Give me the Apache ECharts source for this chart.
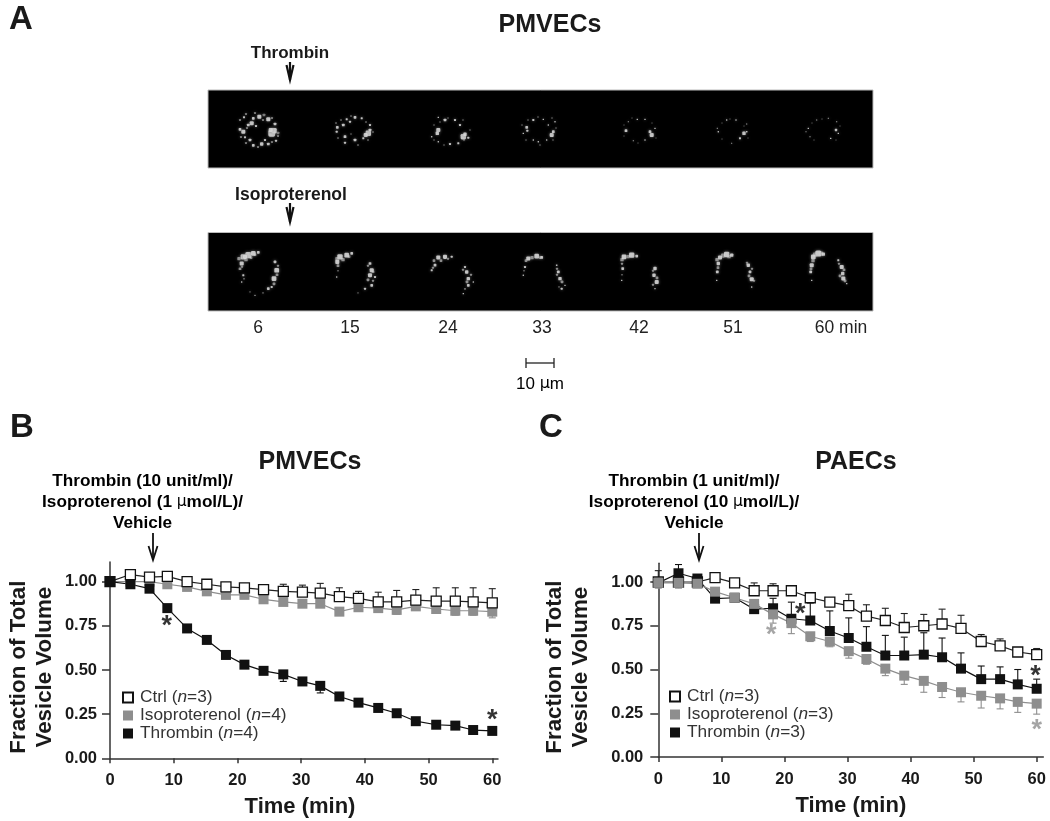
<!DOCTYPE html>
<html><head><meta charset="utf-8">
<style>html,body{margin:0;padding:0;background:#fff}#c{width:1050px;height:821px}</style>
<script src="https://cdn.jsdelivr.net/npm/echarts@6/dist/echarts.min.js"></script>
</head><body><div id="c"></div>
<script>
const FONT = '"Liberation Sans", Arial, sans-serif';
const INK = '#1a1a1a', GRAY = '#8e8e8e';

const times = [0,3.2,6.2,9,12.1,15.2,18.2,21.1,24.1,27.2,30.2,33,36,39,42.1,45,48,51.2,54.2,57,60];
const xTicks = [0,10,20,30,40,50,60];
const yTicks = [0,0.25,0.5,0.75,1];

// Panel B values
const bCtrl = [1.00,1.04,1.025,1.03,1.00,.985,.97,.965,.955,.945,.94,.935,.915,.905,.885,.885,.895,.89,.89,.885,.88];
const bIso  = [1.00,1.00,1.00,.985,.97,.945,.925,.925,.90,.885,.875,.875,.83,.855,.85,.84,.86,.845,.835,.835,.83];
const bThr  = [1.00,.985,.96,.85,.735,.67,.585,.53,.495,.475,.435,.41,.35,.315,.285,.255,.21,.19,.185,.16,.155];
const bCtrlErr = [.01,.01,.01,.01,.01,.015,.02,.02,.025,.04,.04,.055,.05,.04,.055,.065,.06,.075,.075,.08,.08];
const bIsoErr  = [-.01,-.01,-.01,-.01,-.01,-.015,-.015,-.015,-.015,-.02,-.02,-.02,-.02,-.02,-.02,-.025,-.02,-.025,-.025,-.025,-.035];
const bThrErr  = [-.01,-.01,-.01,-.01,-.01,-.015,-.015,-.015,-.015,-.04,-.02,-.04,-.02,-.015,-.015,-.015,-.015,-.01,-.01,-.01,-.01];

// Panel C values
const cCtrl = [1.00,1.00,1.00,1.025,.995,.95,.95,.95,.91,.885,.865,.805,.78,.74,.75,.76,.735,.66,.635,.60,.585];
const cIso  = [.995,.995,.99,.945,.91,.875,.815,.765,.69,.66,.605,.56,.505,.465,.435,.40,.37,.35,.335,.315,.305];
const cThr  = [.995,1.05,1.02,.905,.91,.845,.85,.79,.78,.72,.68,.63,.58,.58,.585,.57,.505,.445,.445,.415,.39];
const cCtrlErr = [.065,.01,.01,.01,.01,.045,.04,.03,.03,.01,.065,.065,.07,.08,.065,.085,.075,.04,.04,.02,.035];
const cIsoErr  = [-.03,-.03,-.005,-.01,-.01,-.03,-.05,-.06,-.03,-.03,-.04,-.03,-.04,-.05,-.065,-.06,-.055,-.07,-.06,-.06,-.06];
const cThrErr  = [.02,.05,.01,.01,.01,.01,.057,.095,.10,.115,.115,.115,.115,.105,.125,.11,.09,.075,.07,.085,.055];

// Significance marks [time, fraction]
const bStarsBlack = [[8.9,.775],[60,.24]];
const cStarsBlack = [[22.5,.845],[59.8,.49]];
const cStarsGray  = [[17.9,.72],[60,.18]];

// Micrograph spots [x, y, size]
const thrombinSpots = [
 [63.7,43.3,5],[66,40.7,4],[62.7,40,3],[43.7,33.3,3],[40.3,35,2],[51.3,26.7,3],[60.3,29.3,3],[35.3,41.7,3],[42,50,2],[53.7,54,2.5],[45.3,55.3,2],[67,34,2],[36,27.3,1.5],[45.3,28.3,2],[60.3,54,2],[37,47.3,1.5],[68,50.7,1.5],[48,36,1.5],[57,50,1.5],[32,39.3,2],
 [160.3,43.3,4],[157.7,45,3],[162,40,2],[135.3,35,2],[129.3,37.3,2],[137,46.7,2],[147,27.3,2],[153.7,28.3,1.5],[138.7,29.3,1.5],[147,50,2],[137,52.7,1.5],[155.3,48.3,1.5],[128.7,41.7,1.5],[142,31.7,1.5],[162,35,1.5],
 [255.3,46.7,4],[257,44.3,2.5],[230.3,40,3],[229.3,43.3,2.5],[237,30,2],[247,30,1.5],[230.3,27.3,1],[252,35,1.5],[242,54,1.5],[230.3,51.7,1],[250.3,53.3,1.5],[260.3,47.7,1.5],[223.7,46.7,1],
 [343.7,45,3],[345.3,41.7,2],[318.7,37.3,2],[319.3,40.7,1.5],[325.3,30,1.5],[335.3,29.3,1],[347,31.7,1],[330.3,51.7,1],[338.7,50,1],[315.3,43.3,1],[325.3,50,1],[340.3,35,1],
 [443.7,45,3],[442,41.7,2],[418,40.7,2],[429.3,29.3,1],[437,29.3,1],[437,50,1],[425.3,50.7,.8],[420.3,31.7,.8],[447,38.3,1],
 [536,43.3,2.5],[538.7,41.7,1.2],[532,48.3,1.5],[518.7,30,1],[528,30,1],[510.3,41.7,1],[509.3,38.3,.8],[538.7,34,.8],[523.7,53.3,.7],
 [628,40,1.8],[630.3,43.3,1],[622.7,48.3,1],[600.3,38.3,1],[608.7,30,.8],[620.3,28.3,.8],[628.7,31.7,.8],[602,46.7,.8],[598,41.7,.7]
];
const isoSpots = [
 [35.3,24.2,4],[40.3,22.5,4.5],[45.3,20.8,3.5],[50.3,19.8,2],[33.7,30.8,3],[68.7,37.5,3.5],[67,29.2,2],[66,45.8,3.5],[60.3,55.8,2],[63.7,54.2,1.5],[35.3,42.5,1.5],[33.7,49.2,1],[47,62.5,.8],[37,24.2,3],
 [132,24.2,4],[138.7,22.5,3.5],[143.7,20.8,2],[129.3,29.2,3],[163.7,37.5,3],[162,30.8,2],[162,42.5,3],[163.7,52.5,2],[157,55.8,1.5],[128.7,44.2,1],[167,44.2,1.5],
 [230.3,24.8,3],[237,24.2,3],[243.7,24.2,1.5],[227,32.5,2],[223.7,37.5,1.5],[258.7,39.2,2.5],[260.3,45.8,2.5],[257,34.2,1.5],[260.3,52.5,2],[255.3,60.8,1],[265.3,49.2,1],
 [320.3,25.8,3],[328.7,23.5,3.5],[333.7,24.8,2],[317,34.2,1.5],[315.3,42.5,1],[350.3,39.2,2],[352,45.8,2.5],[348.7,32.5,1.2],[353.7,55.8,1.5],[357,52.5,1],
 [416,24.2,3.5],[423.7,22.5,4],[428.7,23.5,2],[414.7,35.8,2],[413.7,47.5,1],[447,35.8,2.5],[446,42.5,2.5],[448.7,49.2,3],[447,55.8,1],
 [512,24.8,3],[518.7,21.8,4],[523.7,22.5,2.5],[510.3,30.8,2.5],[509.3,39.2,2],[508.7,47.5,1],[540.3,32.5,2.5],[542,39.2,2],[543.7,46.5,3],[543.7,54.2,1],
 [610.3,20.8,4.5],[605.3,24.2,3.5],[615.3,21.5,2.5],[603.7,32.5,3],[602.7,39.2,2],[633.7,34.2,3],[634.7,40.8,2.5],[635.3,45.8,3],[630.3,27.5,1.5],[638.7,50.8,1],[603.7,47.5,1]
];
// Faint specks and the smear between bright clumps
const thrombinFaint = [
 [32,30,1.5],[38,24,1.5],[47,23,1.5],[56,25,2],[64,28,1.5],[70,43,2],[70,46,1.5],[64,52,1.5],[50,57,1.5],[38,53,1.5],[33,47,1.5],[55,30,1.5],[39,38,1.5],
 [128,33,1.2],[133,30,1.2],[143,26,1.2],[158,32,1.2],[165,42,1.2],[160,50,1.2],[150,55,1.2],[130,48,1.2],[143,44,1],
 [226,35,1],[232,32,1],[240,28,1],[255,30,1],[262,40,1],[256,50,1.2],[236,55,1],[226,50,1],
 [314,35,1],[320,30,1],[330,27,1],[344,28,1],[348,38,1],[345,50,1],[332,55,1],[318,50,1],
 [416,35,.8],[424,28,.8],[444,33,.8],[448,48,.8],[430,53,.8],[416,46,.8],
 [514,33,.8],[522,29,.8],[536,36,.8],[540,48,.8],[514,49,.8],
 [604,33,.8],[614,29,.8],[632,36,.8],[628,50,.8],[606,50,.8]
];
const isoFaint = [
 [31,26,2.5],[38,27,2.5],[43,25,2],[47,22,2],[32,36,2],[34,34,1.5],[70,33,1.5],[69,42,2],[66,51,2],[55,60,1],[36,46,1],[42,59,.8],
 [129,26,2.5],[135,27,2.5],[141,24,2],[130,33,2],[160,33,1.5],[165,39,2],[160,47,2],[165,48,1.5],[130,38,1],[150,60,.8],
 [226,28,2],[233,28,2],[240,26,1.5],[225,35,1.5],[255,37,1.5],[263,42,1.5],[259,49,2],[257,56,1.2],
 [318,28,2],[324,25,2.5],[332,25,2],[316,38,1],[349,36,1.5],[349,42,1.5],[354,49,2],[351,54,1],
 [414,27,2.5],[420,24,2.5],[414,31,1.5],[445,38,1.5],[449,45,2],[445,52,1.5],[414,42,1],
 [509,27,2.5],[515,23,3],[521,24,2.5],[510,35,2],[539,30,1.5],[544,36,1.5],[541,43,2],[546,48,1.5],
 [607,22,3],[613,21,3],[605,28,2.5],[603,36,2],[631,31,1.5],[636,37,2],[632,43,2],[637,48,2]
];
const frameLabels = ['6','15','24','33','42','51','60 min'];
const frameLabelX = [258,350,448,542,639,733,841];

const zip = (v, e) => times.map((t, i) => [t, v[i], e[i]]);

function errSeries(name, v, e, color, g) {
  return {
    name: name + ' SEM', type: 'custom', xAxisIndex: g, yAxisIndex: g, clip: false,
    data: zip(v, e), encode: { x: 0, y: 1 }, silent: true,
    renderItem(params, api) {
      const a = api.coord([api.value(0), api.value(1)]);
      const b = api.coord([api.value(0), api.value(1) + api.value(2)]);
      const st = { stroke: color, lineWidth: 1.1, fill: null };
      return { type: 'group', children: [
        { type: 'line', shape: { x1: a[0], y1: a[1], x2: b[0], y2: b[1] }, style: st },
        { type: 'line', shape: { x1: b[0] - 3.5, y1: b[1], x2: b[0] + 3.5, y2: b[1] }, style: st }
      ]};
    }
  };
}
function lineSeries(name, v, fill, g) {
  return {
    name, type: 'line', xAxisIndex: g, yAxisIndex: g, data: times.map((t, i) => [t, v[i]]),
    symbol: 'rect', symbolSize: 10, showSymbol: true, showAllSymbol: true, clip: false,
    lineStyle: { color: fill === '#ffffff' ? '#222' : (fill === GRAY ? GRAY : '#111'), width: 1.2 },
    itemStyle: { color: fill, borderColor: fill === '#ffffff' ? '#111' : fill, borderWidth: fill === '#ffffff' ? 1.3 : 0 },
    emphasis: { disabled: true }
  };
}
function starSeries(name, pts, color, g) {
  return {
    name, type: 'scatter', xAxisIndex: g, yAxisIndex: g, data: pts, symbolSize: 1, clip: false,
    itemStyle: { color: 'rgba(0,0,0,0)' }, silent: true,
    label: { show: true, formatter: '*', position: 'inside', offset: [0, 5], color, fontFamily: FONT, fontWeight: 'bold', fontSize: 27 }
  };
}
function spotSeries(name, pts, g, opacity) {
  return {
    name, type: 'scatter', xAxisIndex: g, yAxisIndex: g, data: pts, silent: true,
    symbol: 'roundRect',
    symbolSize: v => v[2] * 1.35,
    itemStyle: { color: '#dcdcdc', opacity, shadowBlur: 3, shadowColor: '#888' }
  };
}
function plotX(g) {
  return {
    gridIndex: g, type: 'value', min: 0, max: g === 2 ? 60.9 : 61.05,
    name: 'Time (min)', nameLocation: 'middle', nameGap: 38,
    nameTextStyle: { fontFamily: FONT, fontWeight: 'bold', fontSize: 22, color: INK, padding: g === 2 ? [0, 8, 0, 0] : 0 },
    splitLine: { show: false },
    axisLine: { lineStyle: { color: '#333', width: 1.5 } },
    axisTick: { customValues: xTicks, length: 5, lineStyle: { color: '#333', width: 1.5 } },
    axisLabel: { customValues: xTicks, formatter: v => String(v), margin: 14, fontFamily: FONT, fontWeight: 'bold', fontSize: 16.5, color: INK }
  };
}
function plotY(g, max, gap, margin) {
  return {
    gridIndex: g, type: 'value', min: 0, max,
    name: 'Fraction of Total\nVesicle Volume', nameLocation: 'middle', nameRotate: 90, nameGap: gap,
    nameTextStyle: { fontFamily: FONT, fontWeight: 'bold', fontSize: 22.3, lineHeight: 26, color: INK, padding: [0, 14, 0, 0] },
    splitLine: { show: false },
    axisLine: { show: true, onZero: false, lineStyle: { color: '#333', width: 1.5 } },
    axisTick: { customValues: yTicks, length: 8, lineStyle: { color: '#333', width: 1.5 } },
    axisLabel: { customValues: yTicks, formatter: v => v.toFixed(2), margin, fontFamily: FONT, fontWeight: 'bold', fontSize: 16.5, color: INK }
  };
}
function legendFor(g, left, top, nIso, nThr) {
  const rich = {
    f: { fontFamily: FONT, fontSize: 17.3, color: '#333', lineHeight: 17, padding: [0, 0, 0, 2] },
    a: { fontFamily: FONT, fontSize: 17.3, color: '#333', lineHeight: 17 },
    i: { fontFamily: FONT, fontSize: 17.3, fontStyle: 'italic', color: '#333', lineHeight: 17 }
  };
  const map = { 'Ctrl': 3, 'Isoproterenol': nIso, 'Thrombin': nThr };
  return {
    orient: 'vertical', left, top, itemWidth: 10, itemHeight: 10, itemGap: 1, icon: 'rect', selectedMode: false, padding: 0,
    data: ['Ctrl', 'Isoproterenol', 'Thrombin'],
    formatter: n => `{f|${n} (}{i|n}{a|=${map[n]})}`,
    textStyle: { rich }
  };
}
function txt(text, x, y, size, weight, extra) {
  return { type: 'text', x, y, silent: true, style: Object.assign({ text, fontFamily: FONT, fontSize: size, fontWeight: weight || 'bold', fill: INK, align: 'center', verticalAlign: 'middle' }, extra || {}) };
}
function arrow(x, y1, y2, hw, hl, lw) {
  const st = { stroke: '#111', lineWidth: lw, fill: null };
  return [
    { type: 'line', silent: true, shape: { x1: x, y1, x2: x, y2 }, style: st },
    { type: 'polyline', silent: true, shape: { points: [[x - hw, y2 - hl], [x, y2], [x + hw, y2 - hl]] }, style: st }
  ];
}
function noteLines(x, y0, lines) {
  const rich = { b: { fontFamily: FONT, fontWeight: 'bold', fontSize: 17.2, color: INK }, m: { fontFamily: 'DejaVu Sans', fontWeight: 'normal', fontSize: 15.5, color: INK } };
  return lines.map((t, i) => ({ type: 'text', x, y: y0 + i * 21.3, silent: true,
    style: { text: t, rich, align: 'center', verticalAlign: 'middle' } }));
}

const chart = echarts.init(document.getElementById('c'), null, { renderer: 'canvas' });
chart.setOption({
  animation: false,
  backgroundColor: '#ffffff',
  grid: [
    { left: 208, top: 90, width: 665, height: 78, show: true, backgroundColor: '#000', borderColor: '#bbb', borderWidth: 1 },
    { left: 208, top: 232.5, width: 665, height: 78.5, show: true, backgroundColor: '#000', borderColor: '#bbb', borderWidth: 1 },
    { left: 110, top: 562, width: 388, height: 196.3 },
    { left: 658.3, top: 563.3, width: 385, height: 193.7 }
  ],
  xAxis: [
    { gridIndex: 0, type: 'value', min: 0, max: 665, show: false },
    { gridIndex: 1, type: 'value', min: 0, max: 665, show: false },
    plotX(2), plotX(3)
  ],
  yAxis: [
    { gridIndex: 0, type: 'value', min: 0, max: 78, inverse: true, show: false },
    { gridIndex: 1, type: 'value', min: 0, max: 78, inverse: true, show: false },
    plotY(2, 1.111, 52, 13), plotY(3, 1.107, 64, 15)
  ],
  legend: [legendFor(2, 122, 689, 4, 4), legendFor(3, 669, 688, 3, 3)],
  series: [
    spotSeries('Thrombin strip faint', thrombinFaint, 0, .5),
    spotSeries('Isoproterenol strip faint', isoFaint, 1, .6),
    spotSeries('Thrombin strip', thrombinSpots, 0, .85),
    spotSeries('Isoproterenol strip', isoSpots, 1, .85),
    errSeries('Isoproterenol', bIso, bIsoErr, GRAY, 2),
    lineSeries('Isoproterenol', bIso, GRAY, 2),
    errSeries('Ctrl', bCtrl, bCtrlErr, '#222', 2),
    lineSeries('Ctrl', bCtrl, '#ffffff', 2),
    errSeries('Thrombin', bThr, bThrErr, '#111', 2),
    lineSeries('Thrombin', bThr, '#111111', 2),
    starSeries('B significance', bStarsBlack, '#000', 2),
    errSeries('Ctrl', cCtrl, cCtrlErr, '#222', 3),
    lineSeries('Ctrl', cCtrl, '#ffffff', 3),
    errSeries('Thrombin', cThr, cThrErr, '#111', 3),
    lineSeries('Thrombin', cThr, '#111111', 3),
    errSeries('Isoproterenol', cIso, cIsoErr, GRAY, 3),
    lineSeries('Isoproterenol', cIso, GRAY, 3),
    starSeries('C significance black', cStarsBlack, '#000', 3),
    starSeries('C significance gray', cStarsGray, GRAY, 3)
  ],
  graphic: { elements: [
    txt('A', 21, 20, 33), txt('B', 22, 428, 33), txt('C', 551, 428, 33),
    txt('PMVECs', 550, 25, 25), txt('PMVECs', 310, 462, 25), txt('PAECs', 856, 462, 25),
    txt('Thrombin', 290, 53, 17), txt('Isoproterenol', 291, 195, 17.5),
    ...arrow(290, 62, 80, 3.5, 15, 2.2), ...arrow(290, 203, 222, 3.5, 15, 2.2),
    ...frameLabels.map((t, i) => txt(t, frameLabelX[i], 328, 17.5, 'normal', { fill: '#222' })),
    { type: 'line', silent: true, shape: { x1: 526, y1: 363, x2: 554, y2: 363 }, style: { stroke: '#222', lineWidth: 1.3 } },
    { type: 'line', silent: true, shape: { x1: 526, y1: 358, x2: 526, y2: 368 }, style: { stroke: '#222', lineWidth: 1.3 } },
    { type: 'line', silent: true, shape: { x1: 554, y1: 358, x2: 554, y2: 368 }, style: { stroke: '#222', lineWidth: 1.3 } },
    { type: 'text', x: 540, y: 384, silent: true, style: { text: '{a|10 }{m|µ}{a|m}', align: 'center', verticalAlign: 'middle',
      rich: { a: { fontFamily: FONT, fontSize: 17, color: '#222' }, m: { fontFamily: 'DejaVu Sans', fontSize: 16, color: '#222' } } } },
    ...noteLines(142.5, 481, ['{b|Thrombin (10 unit/ml)/}', '{b|Isoproterenol (1 }{m|µ}{b|mol/L)/}', '{b|Vehicle}']),
    ...noteLines(694, 481, ['{b|Thrombin (1 unit/ml)/}', '{b|Isoproterenol (10 }{m|µ}{b|mol/L)/}', '{b|Vehicle}']),
    ...arrow(153, 533, 560, 4.5, 14, 1.8), ...arrow(699, 533, 560, 4.5, 14, 1.8)
  ]}
});
</script></body></html>
